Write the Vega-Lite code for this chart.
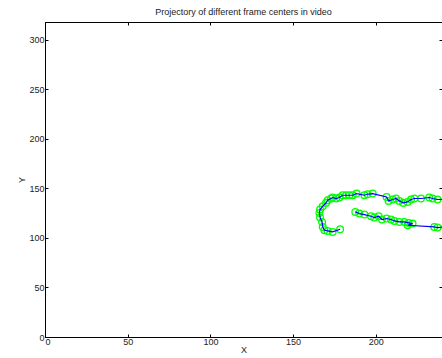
{
  "$schema": "https://vega.github.io/schema/vega-lite/v6.json",
  "width": 397,
  "height": 315,
  "autosize": "none",
  "padding": {"left": 45, "top": 22, "right": 0, "bottom": 21},
  "background": "white",
  "title": {"text": "Projectory of different frame centers in video", "fontSize": 9, "font": "Liberation Sans", "fontWeight": "normal", "color": "#222", "offset": 5},
  "config": {
    "view": {"stroke": "black", "strokeWidth": 1},
    "axis": {"domainColor": "black", "tickColor": "black", "labelFont": "Liberation Sans", "labelFontSize": 9, "labelColor": "#222", "titleFont": "Liberation Sans", "titleFontSize": 9, "titleFontWeight": "normal", "titleColor": "#222", "grid": false, "tickSize": -3, "labelPadding": 6}
  },
  "data": {"values": [
    {"i": 1, "x": 178.4, "y": 108.8},
    {"i": 2, "x": 173.9, "y": 106.1},
    {"i": 3, "x": 170.9, "y": 107.1},
    {"i": 4, "x": 168.9, "y": 107.8},
    {"i": 5, "x": 167.9, "y": 111.1},
    {"i": 6, "x": 167.5, "y": 116.2},
    {"i": 7, "x": 166.3, "y": 120.6},
    {"i": 8, "x": 165.9, "y": 125.3},
    {"i": 9, "x": 166.3, "y": 128.7},
    {"i": 10, "x": 167.9, "y": 132.0},
    {"i": 11, "x": 169.9, "y": 135.4},
    {"i": 12, "x": 170.9, "y": 138.1},
    {"i": 13, "x": 172.9, "y": 139.8},
    {"i": 14, "x": 173.9, "y": 140.8},
    {"i": 15, "x": 176.0, "y": 139.8},
    {"i": 16, "x": 178.0, "y": 140.8},
    {"i": 17, "x": 179.9, "y": 143.1},
    {"i": 18, "x": 182.0, "y": 143.1},
    {"i": 19, "x": 184.0, "y": 143.1},
    {"i": 20, "x": 186.0, "y": 143.1},
    {"i": 21, "x": 188.4, "y": 144.8},
    {"i": 22, "x": 193.1, "y": 143.1},
    {"i": 23, "x": 195.0, "y": 144.1},
    {"i": 24, "x": 198.1, "y": 144.8},
    {"i": 25, "x": 206.5, "y": 141.4},
    {"i": 26, "x": 207.7, "y": 137.4},
    {"i": 27, "x": 210.2, "y": 138.8},
    {"i": 28, "x": 212.2, "y": 139.8},
    {"i": 29, "x": 214.2, "y": 137.4},
    {"i": 30, "x": 216.6, "y": 135.4},
    {"i": 31, "x": 219.2, "y": 136.4},
    {"i": 32, "x": 221.3, "y": 138.8},
    {"i": 33, "x": 223.3, "y": 139.8},
    {"i": 34, "x": 227.3, "y": 139.8},
    {"i": 35, "x": 232.3, "y": 140.8},
    {"i": 36, "x": 234.3, "y": 139.8},
    {"i": 37, "x": 237.3, "y": 138.8},
    {"i": 38, "x": 243.0, "y": 139.0},
    {"i": 39, "x": 246.0, "y": 133.0},
    {"i": 40, "x": 244.0, "y": 115.0},
    {"i": 41, "x": 242.0, "y": 111.0},
    {"i": 42, "x": 237.3, "y": 110.5},
    {"i": 43, "x": 235.3, "y": 111.1},
    {"i": 44, "x": 219.2, "y": 112.8},
    {"i": 45, "x": 222.2, "y": 114.5},
    {"i": 46, "x": 219.8, "y": 115.2},
    {"i": 47, "x": 217.2, "y": 116.2},
    {"i": 48, "x": 214.2, "y": 116.2},
    {"i": 49, "x": 211.2, "y": 117.2},
    {"i": 50, "x": 209.2, "y": 118.6},
    {"i": 51, "x": 206.5, "y": 119.6},
    {"i": 52, "x": 203.7, "y": 118.6},
    {"i": 53, "x": 201.7, "y": 121.9},
    {"i": 54, "x": 199.1, "y": 120.6},
    {"i": 55, "x": 197.1, "y": 121.9},
    {"i": 56, "x": 193.1, "y": 123.6},
    {"i": 57, "x": 190.0, "y": 124.6},
    {"i": 58, "x": 187.6, "y": 126.3}
  ]},
  "layer": [
    {
      "mark": {"type": "point", "shape": "circle", "filled": false, "color": "#00ff00", "opacity": 1, "size": 45, "strokeWidth": 1.3, "clip": true},
      "encoding": {
        "x": {"field": "x", "type": "quantitative", "scale": {"domain": [0, 240], "nice": false, "zero": false}, "axis": {"orient": "bottom", "title": "X", "values": [0, 50, 100, 150, 200], "labelPadding": 3, "titlePadding": -1}},
        "y": {"field": "y", "type": "quantitative", "scale": {"domain": [0, 318], "nice": false, "zero": false}, "axis": {"orient": "left", "title": "Y", "values": [0, 50, 100, 150, 200, 250, 300], "labelPadding": 4, "titlePadding": 2}}
      }
    },
    {
      "mark": {"type": "line", "color": "#0000ff", "strokeWidth": 1.2, "clip": true},
      "encoding": {
        "x": {"field": "x", "type": "quantitative", "axis": {"orient": "top", "labels": false, "title": null, "values": [0, 50, 100, 150, 200]}},
        "y": {"field": "y", "type": "quantitative", "axis": {"orient": "right", "labels": false, "title": null, "values": [0, 50, 100, 150, 200, 250, 300]}},
        "order": {"field": "i", "type": "quantitative"}
      }
    }
  ]
}
